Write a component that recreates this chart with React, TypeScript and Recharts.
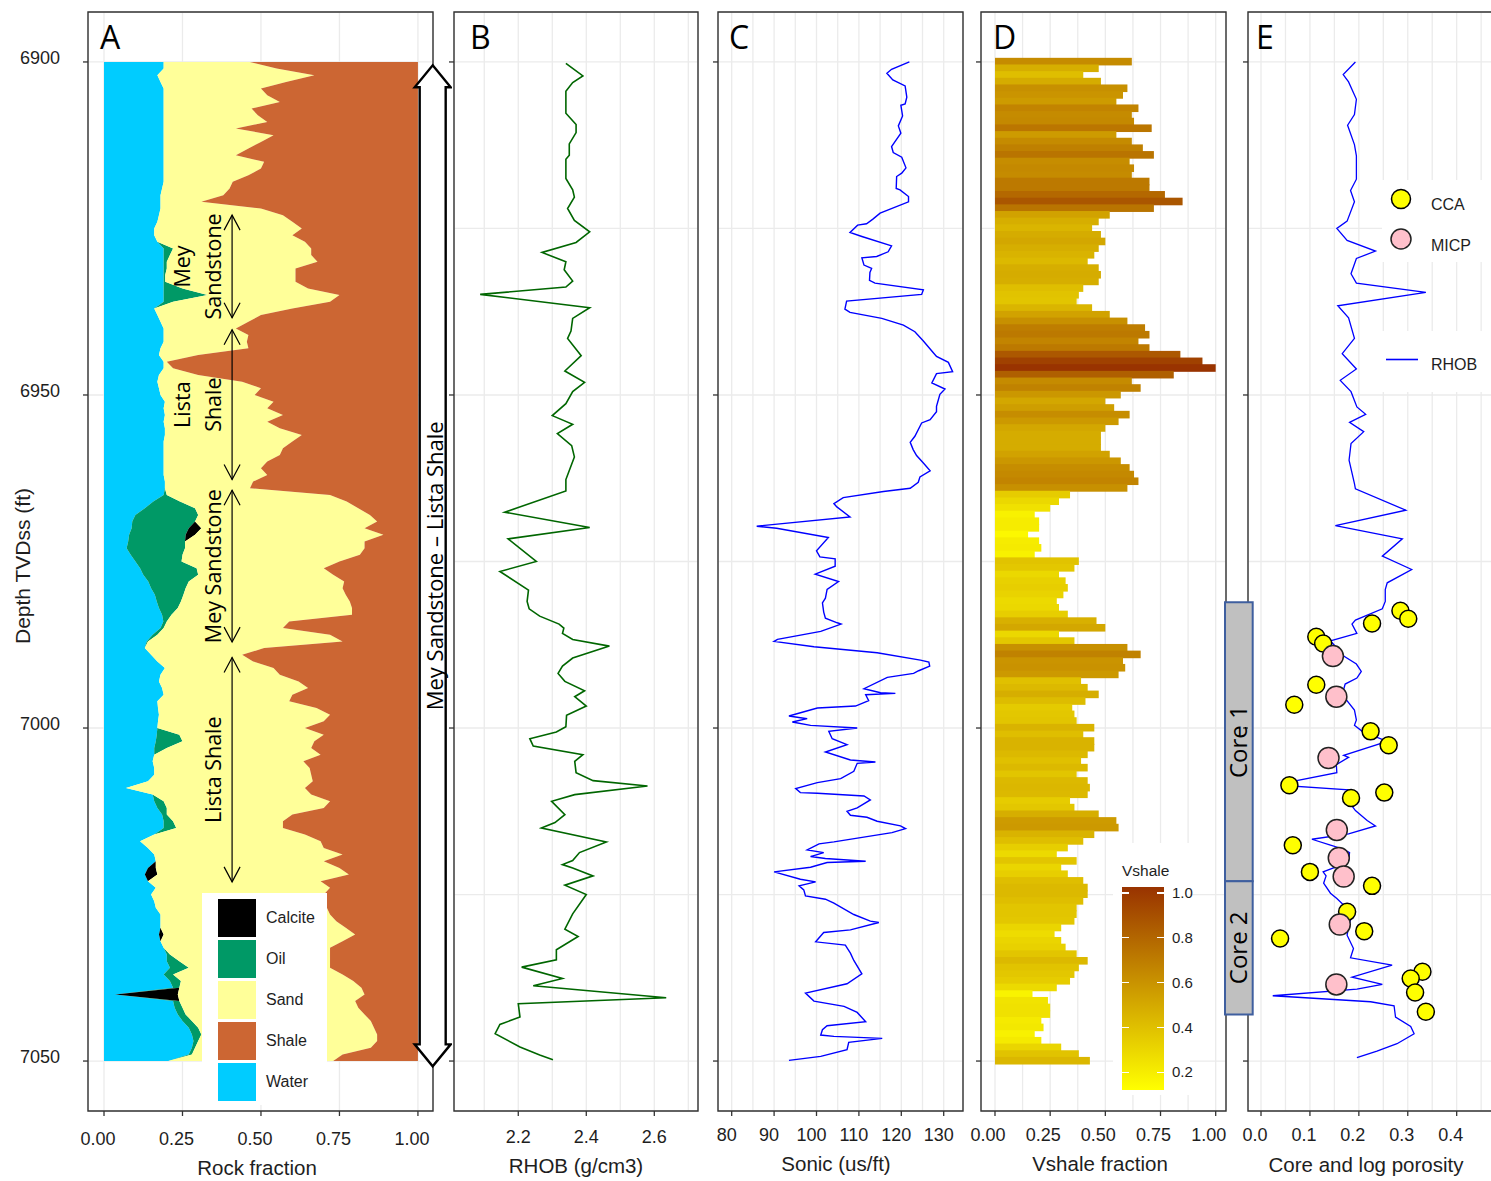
import React from "react";
import {
  AreaChart,
  Area,
  LineChart,
  Line,
  BarChart,
  Bar,
  Cell,
  ComposedChart,
  Scatter,
  XAxis,
  YAxis,
  CartesianGrid,
  ReferenceArea,
  ReferenceLine,
  Legend,
} from "recharts";

const SANS = '"Liberation Sans", Arial, sans-serif';
const NOTE_FONT = '"Open Sans", "Liberation Sans", sans-serif';
const INK = "#1e1e1e";
const GRID = "#EBEBEB";
const FRAME = "#333333";

// depth axis shared by all tracks (ft TVDss)
const DEPTH_DOMAIN: [number, number] = [6892.5, 7057.5];
const DEPTH_MAJOR = [6900, 6950, 7000, 7050];
const DEPTH_TICKS = [6900, 6925, 6950, 6975, 7000, 7025, 7050];
const DEPTH_TOP = 6900; // first sample of the 1 ft grid used by tracks A and D

// ---- track A: rock fractions, one sample per foot from 6900 to 7050 ----
const water = [
  0.19, 0.19, 0.17, 0.18, 0.19, 0.19, 0.19, 0.19, 0.19, 0.19,
  0.19, 0.19, 0.19, 0.19, 0.19, 0.19, 0.19, 0.19, 0.19, 0.185,
  0.18, 0.18, 0.18, 0.175, 0.17, 0.16, 0.16, 0.17, 0.19, 0.19,
  0.19, 0.19, 0.19, 0.19, 0.19, 0.19, 0.19, 0.16, 0.17, 0.18,
  0.19, 0.19, 0.19, 0.18, 0.175, 0.19, 0.19, 0.175, 0.17, 0.175,
  0.18, 0.194, 0.19, 0.194, 0.19, 0.194, 0.194, 0.19, 0.19, 0.19,
  0.19, 0.19, 0.19, 0.194, 0.194, 0.19, 0.157, 0.13, 0.1, 0.09,
  0.088, 0.08, 0.077, 0.072, 0.085, 0.1, 0.115, 0.125, 0.141, 0.15,
  0.162, 0.168, 0.175, 0.185, 0.189, 0.18, 0.155, 0.136, 0.13, 0.15,
  0.17, 0.194, 0.18, 0.175, 0.185, 0.19, 0.17, 0.172, 0.175, 0.172,
  0.17, 0.168, 0.165, 0.16, 0.16, 0.155, 0.16, 0.16, 0.14, 0.07,
  0.155, 0.16, 0.17, 0.185, 0.19, 0.19, 0.16, 0.115, 0.14, 0.16,
  0.165, 0.14, 0.13, 0.14, 0.165, 0.15, 0.16, 0.165, 0.18, 0.18,
  0.18, 0.175, 0.18, 0.19, 0.2, 0.2, 0.21, 0.19, 0.21, 0.22,
  0.035, 0.22, 0.225, 0.235, 0.25, 0.27, 0.28, 0.285, 0.28, 0.27,
  0.205,
];
const oil = [
  0, 0, 0, 0, 0, 0, 0, 0, 0, 0,
  0, 0, 0, 0, 0, 0, 0, 0, 0, 0,
  0, 0, 0, 0, 0, 0, 0, 0, 0.03, 0.02,
  0.01, 0.01, 0.005, 0.005, 0.06, 0.14, 0.03, 0, 0, 0,
  0, 0, 0, 0, 0, 0, 0, 0, 0, 0,
  0, 0, 0, 0, 0, 0, 0, 0, 0, 0,
  0, 0, 0, 0, 0, 0.01, 0.085, 0.16, 0.2, 0.2,
  0.182, 0.18, 0.181, 0.186, 0.165, 0.147, 0.18, 0.175, 0.129, 0.11,
  0.091, 0.077, 0.06, 0.03, 0.011, 0.01, 0.015, 0.004, 0, 0,
  0, 0, 0, 0, 0, 0, 0, 0, 0, 0,
  0, 0.072, 0.085, 0.04, 0, 0, 0, 0, 0, 0,
  0, 0.03, 0.03, 0.015, 0.03, 0.04, 0, 0, 0, 0,
  0, 0, 0, 0, 0, 0, 0, 0, 0, 0,
  0, 0, 0, 0, 0.01, 0.04, 0.06, 0.03, 0.035, 0.02,
  0, 0.02, 0.025, 0.025, 0.03, 0.03, 0.03, 0.015, 0.01, 0.01,
  0,
];
const calcite = [
  0, 0, 0, 0, 0, 0, 0, 0, 0, 0,
  0, 0, 0, 0, 0, 0, 0, 0, 0, 0,
  0, 0, 0, 0, 0, 0, 0, 0, 0, 0,
  0, 0, 0, 0, 0, 0, 0, 0, 0, 0,
  0, 0, 0, 0, 0, 0, 0, 0, 0, 0,
  0, 0, 0, 0, 0, 0, 0, 0, 0, 0,
  0, 0, 0, 0, 0, 0, 0, 0, 0, 0,
  0.04, 0.03, 0, 0, 0, 0, 0, 0, 0, 0,
  0, 0, 0, 0, 0, 0, 0, 0, 0, 0,
  0, 0, 0, 0, 0, 0, 0, 0, 0, 0,
  0, 0, 0, 0, 0, 0, 0, 0, 0, 0,
  0, 0, 0, 0, 0, 0, 0, 0, 0, 0,
  0, 0.025, 0.04, 0, 0, 0, 0, 0, 0, 0,
  0, 0.015, 0, 0, 0, 0, 0, 0, 0, 0,
  0.2, 0, 0, 0, 0, 0, 0, 0, 0, 0,
  0,
];
const sand = [
  0.275, 0.36, 0.5, 0.4, 0.31, 0.33, 0.37, 0.28, 0.3, 0.33,
  0.23, 0.35, 0.31, 0.27, 0.23, 0.32, 0.31, 0.27, 0.22, 0.215,
  0.2, 0.13, 0.32, 0.395, 0.43, 0.47, 0.44, 0.47, 0.44, 0.45,
  0.48, 0.41, 0.415, 0.415, 0.4, 0.42, 0.5, 0.44, 0.33, 0.28,
  0.23, 0.27, 0.265, 0.28, 0.125, 0.01, 0.03, 0.125, 0.27, 0.325,
  0.3, 0.346, 0.33, 0.376, 0.33, 0.366, 0.436, 0.41, 0.38, 0.37,
  0.33, 0.31, 0.33, 0.281, 0.271, 0.52, 0.531, 0.52, 0.547, 0.58,
  0.52, 0.6, 0.572, 0.572, 0.565, 0.503, 0.405, 0.43, 0.495, 0.5,
  0.517, 0.538, 0.555, 0.575, 0.39, 0.38, 0.55, 0.62, 0.38, 0.29,
  0.305, 0.346, 0.38, 0.445, 0.465, 0.41, 0.42, 0.505, 0.545, 0.528,
  0.47, 0.46, 0.42, 0.46, 0.53, 0.48, 0.495, 0.5, 0.525, 0.57,
  0.505, 0.53, 0.5, 0.4, 0.35, 0.34, 0.48, 0.575, 0.56, 0.6,
  0.535, 0.585, 0.61, 0.55, 0.555, 0.55, 0.54, 0.545, 0.54, 0.56,
  0.59, 0.61, 0.58, 0.53, 0.51, 0.48, 0.45, 0.54, 0.549, 0.58,
  0.595, 0.56, 0.56, 0.57, 0.57, 0.56, 0.56, 0.57, 0.56, 0.48,
  0.525,
];
const shale = [
  0.535, 0.45, 0.33, 0.42, 0.5, 0.48, 0.44, 0.53, 0.51, 0.48,
  0.58, 0.46, 0.5, 0.54, 0.58, 0.49, 0.5, 0.54, 0.59, 0.6,
  0.62, 0.69, 0.5, 0.43, 0.4, 0.37, 0.4, 0.36, 0.34, 0.34,
  0.32, 0.39, 0.39, 0.39, 0.35, 0.25, 0.28, 0.4, 0.5, 0.54,
  0.58, 0.54, 0.545, 0.54, 0.7, 0.8, 0.78, 0.7, 0.56, 0.5,
  0.52, 0.46, 0.48, 0.43, 0.48, 0.44, 0.37, 0.4, 0.43, 0.44,
  0.48, 0.5, 0.48, 0.525, 0.535, 0.28, 0.227, 0.19, 0.153, 0.13,
  0.17, 0.11, 0.17, 0.17, 0.185, 0.25, 0.3, 0.27, 0.235, 0.24,
  0.23, 0.217, 0.21, 0.21, 0.41, 0.43, 0.28, 0.24, 0.49, 0.56,
  0.525, 0.46, 0.44, 0.38, 0.35, 0.4, 0.41, 0.323, 0.28, 0.3,
  0.36, 0.3, 0.33, 0.34, 0.31, 0.365, 0.345, 0.34, 0.335, 0.36,
  0.34, 0.28, 0.3, 0.4, 0.43, 0.43, 0.36, 0.31, 0.3, 0.24,
  0.3, 0.25, 0.22, 0.31, 0.28, 0.3, 0.3, 0.29, 0.28, 0.26,
  0.23, 0.2, 0.24, 0.28, 0.28, 0.28, 0.28, 0.24, 0.206, 0.18,
  0.17, 0.2, 0.19, 0.17, 0.15, 0.14, 0.13, 0.13, 0.15, 0.24,
  0.27,
];

// ---- track B: bulk density log ----
const rhobDepth = [
  6900.2, 6902.1, 6903.1, 6904.4, 6906.0, 6907.7, 6909.4, 6910.6, 6912.3, 6914.0,
  6914.6, 6917.5, 6919.2, 6920.3, 6922.0, 6923.8, 6925.5, 6927.1, 6928.6, 6930.0,
  6931.2, 6932.9, 6933.8, 6934.9, 6936.9, 6938.5, 6940.4, 6941.5, 6944.1, 6946.4,
  6948.1, 6949.5, 6951.3, 6953.1, 6954.4, 6955.8, 6957.6, 6959.3, 6962.7, 6964.4,
  6967.6, 6969.9, 6971.6, 6975.0, 6976.5, 6979.3, 6981.0, 6982.1, 6983.2, 6984.4,
  6985.0, 6985.8, 6986.7, 6987.7, 6989.5, 6990.7, 6991.8, 6993.0, 6994.4, 6995.3,
  6996.7, 6998.1, 6999.8, 7000.6, 7001.6, 7002.7, 7004.0, 7005.0, 7006.7, 7007.9,
  7008.7, 7010.0, 7011.0, 7013.0, 7014.2, 7015.0, 7017.1, 7018.7, 7019.9, 7020.5,
  7021.0, 7022.2, 7023.6, 7025.0, 7027.9, 7030.2, 7031.3, 7033.3, 7034.8, 7035.9,
  7037.6, 7038.7, 7040.5, 7041.4, 7043.4, 7044.5, 7045.9, 7047.9, 7049.1, 7049.8,
];
const rhob = [
  2.34, 2.39, 2.36, 2.34, 2.34, 2.34, 2.37, 2.37, 2.35, 2.35,
  2.34, 2.34, 2.36, 2.365, 2.345, 2.365, 2.41, 2.37, 2.27, 2.34,
  2.335, 2.36, 2.34, 2.088, 2.41, 2.36, 2.355, 2.345, 2.385, 2.337,
  2.395, 2.36, 2.34, 2.3, 2.36, 2.315, 2.357, 2.365, 2.34, 2.34,
  2.16, 2.41, 2.17, 2.253, 2.146, 2.23, 2.226, 2.232, 2.263, 2.32,
  2.334, 2.33, 2.36, 2.468, 2.36, 2.33, 2.317, 2.337, 2.395, 2.366,
  2.4, 2.342, 2.34, 2.312, 2.234, 2.244, 2.39, 2.366, 2.37, 2.42,
  2.58, 2.366, 2.298, 2.337, 2.308, 2.268, 2.459, 2.38, 2.36, 2.33,
  2.36, 2.42, 2.337, 2.4, 2.36, 2.337, 2.376, 2.312, 2.312, 2.21,
  2.33, 2.244, 2.635, 2.2, 2.205, 2.146, 2.132, 2.205, 2.263, 2.302,
];

// ---- track C: sonic log ----
const sonicDepth = [
  6900.0, 6901.1, 6901.7, 6902.7, 6903.6, 6905.3, 6906.3, 6906.5, 6908.1, 6909.6,
  6910.7, 6912.7, 6913.6, 6914.3, 6915.9, 6916.7, 6917.2, 6919.0, 6919.2, 6920.2,
  6921.0, 6922.7, 6923.6, 6924.3, 6924.5, 6925.6, 6926.2, 6927.6, 6928.5, 6929.2,
  6929.4, 6930.5, 6931.0, 6931.6, 6932.8, 6933.2, 6934.2, 6934.9, 6935.9, 6937.1,
  6937.6, 6938.5, 6939.5, 6940.5, 6941.9, 6943.4, 6944.2, 6945.1, 6946.5, 6946.8,
  6948.2, 6949.1, 6949.9, 6951.7, 6952.5, 6953.7, 6954.2, 6956.2, 6957.1, 6958.2,
  6959.1, 6960.2, 6961.4, 6962.3, 6963.1, 6964.0, 6964.5, 6965.4, 6966.3, 6966.8,
  6968.3, 6969.7, 6970.0, 6971.4, 6973.4, 6974.3, 6974.6, 6975.7, 6976.9, 6978.0,
  6979.2, 6980.5, 6981.2, 6982.6, 6983.5, 6984.2, 6984.4, 6985.5, 6986.7, 6987.0,
  6987.8, 6988.7, 6989.8, 6990.1, 6990.7, 6991.4, 6991.8, 6992.4, 6994.1, 6994.7,
  6994.8, 6995.0, 6995.9, 6996.7, 6997.0, 6998.2, 6998.6, 6999.1, 6999.6, 7000.0,
  7000.5, 7001.6, 7002.5, 7003.6, 7004.8, 7005.1, 7005.3, 7006.5, 7007.6, 7008.2,
  7009.1, 7009.7, 7009.8, 7010.2, 7010.8, 7012.0, 7012.5, 7013.1, 7013.4, 7014.0,
  7014.7, 7015.1, 7015.7, 7017.1, 7017.4, 7018.3, 7018.7, 7019.3, 7019.6, 7020.0,
  7020.2, 7020.9, 7021.6, 7022.7, 7023.1, 7023.7, 7024.3, 7025.2, 7025.7, 7026.3,
  7028.0, 7029.0, 7029.2, 7030.3, 7030.7, 7032.1, 7032.6, 7033.8, 7034.9, 7036.9,
  7038.4, 7039.8, 7041.0, 7041.8, 7042.7, 7044.1, 7044.7, 7045.3, 7046.1, 7046.3,
  7046.6, 7047.2, 7048.3, 7049.3, 7049.9,
];
const sonic = [
  121.9, 117.7, 116.6, 118.0, 120.9, 121.3, 120.9, 119.9, 120.3, 119.3,
  119.9, 117.7, 118.1, 120.1, 121.1, 120.1, 118.9, 118.8, 119.7, 121.7,
  121.7, 115.0, 113.3, 111.8, 109.7, 107.9, 110.7, 117.7, 116.9, 114.2,
  110.7, 111.2, 113.0, 112.6, 112.5, 113.8, 125.2, 124.8, 107.1, 106.7,
  107.9, 115.4, 120.5, 123.2, 125.2, 127.2, 128.3, 131.1, 132.1, 128.3,
  127.2, 130.3, 129.1, 128.3, 128.3, 126.8, 124.8, 123.2, 122.1, 122.8,
  123.6, 125.2, 126.8, 124.4, 124.0, 122.1, 115.8, 106.3, 104.1, 104.8,
  107.9, 85.9, 90.6, 102.8, 100.0, 100.8, 104.4, 104.4, 99.7, 105.2,
  102.5, 102.1, 101.4, 101.7, 102.1, 104.9, 105.8, 101.0, 90.8, 90.0,
  99.4, 114.3, 124.5, 126.5, 126.7, 124.1, 122.9, 116.7, 111.2, 115.1,
  118.6, 111.6, 112.3, 109.2, 100.2, 93.5, 97.8, 94.3, 98.6, 109.6,
  102.9, 103.7, 107.2, 102.1, 108.0, 113.9, 109.6, 108.8, 105.7, 100.2,
  95.1, 96.2, 100.2, 111.2, 112.7, 109.6, 107.2, 108.0, 111.9, 114.3,
  119.8, 121.0, 117.8, 104.1, 100.6, 97.8, 101.7, 98.6, 102.1, 111.6,
  102.5, 98.6, 90.0, 96.2, 99.8, 95.9, 97.0, 97.4, 102.1, 104.1,
  108.8, 112.7, 114.7, 108.0, 101.7, 99.8, 106.8, 108.0, 108.8, 110.7,
  107.2, 97.4, 99.4, 106.5, 109.6, 111.6, 102.5, 101.4, 101.0, 104.1,
  115.5, 107.6, 107.2, 101.0, 93.5,
];

// ---- track D: shale volume, one bar per foot from 6900 to 7050 ----
const vshale = [
  0.62, 0.47, 0.4, 0.48, 0.6, 0.58, 0.55, 0.65, 0.62, 0.63,
  0.71, 0.55, 0.62, 0.67, 0.72, 0.61, 0.63, 0.62, 0.7, 0.7,
  0.77, 0.85, 0.72, 0.52, 0.47, 0.44, 0.48, 0.5, 0.47, 0.45,
  0.42, 0.47, 0.48, 0.47, 0.4, 0.38, 0.37, 0.44, 0.52, 0.6,
  0.68, 0.7, 0.65, 0.7, 0.84, 0.94, 1.0, 0.81, 0.62, 0.66,
  0.57, 0.5, 0.54, 0.61, 0.56, 0.5, 0.48, 0.48, 0.48, 0.52,
  0.57, 0.61, 0.63, 0.65, 0.6, 0.34, 0.29, 0.25, 0.18, 0.2,
  0.2, 0.15, 0.2, 0.21, 0.18, 0.38, 0.36, 0.29, 0.32, 0.33,
  0.31, 0.28, 0.29, 0.33, 0.46, 0.5, 0.29, 0.36, 0.6, 0.66,
  0.58, 0.59, 0.56, 0.39, 0.42, 0.47, 0.41, 0.35, 0.36, 0.37,
  0.45, 0.4, 0.45, 0.45, 0.42, 0.39, 0.42, 0.37, 0.42, 0.43,
  0.42, 0.34, 0.36, 0.47, 0.55, 0.56, 0.45, 0.4, 0.33, 0.28,
  0.37, 0.3, 0.33, 0.4, 0.42, 0.42, 0.4, 0.37, 0.37, 0.36,
  0.3, 0.27, 0.3, 0.32, 0.37, 0.42, 0.38, 0.36, 0.34, 0.28,
  0.17, 0.24, 0.25, 0.25, 0.21, 0.22, 0.18, 0.21, 0.3, 0.38,
  0.43,
];
const vshaleLegendTicks = [1.0, 0.8, 0.6, 0.4, 0.2];

// ---- track E: log porosity line and core measurements ----
const phiDepth = [
  6900.0, 6901.9, 6903.0, 6905.6, 6907.9, 6909.5, 6912.4, 6914.1, 6917.6, 6919.3,
  6921.0, 6923.9, 6925.0, 6926.8, 6928.4, 6929.5, 6931.8, 6933.2, 6934.6, 6936.6,
  6938.4, 6941.5, 6943.8, 6946.1, 6947.8, 6949.5, 6951.8, 6952.9, 6954.1, 6955.5,
  6957.3, 6959.8, 6963.3, 6964.1, 6967.3, 6969.6, 6971.6, 6974.2, 6976.2, 6978.2,
  6979.2, 6981.0, 6982.1, 6983.8, 6984.4, 6985.8, 6986.9, 6989.2, 6990.4, 6991.5,
  6992.5, 6993.4, 6995.0, 6997.3, 6998.8, 6999.6, 7000.5, 7002.0, 7004.1, 7004.4,
  7005.5, 7006.7, 7007.9, 7008.7, 7009.3, 7010.7, 7012.4, 7013.9, 7014.7, 7015.9,
  7016.7, 7017.6, 7018.2, 7018.7, 7019.9, 7020.7, 7021.6, 7022.2, 7023.3, 7024.8,
  7025.6, 7027.3, 7028.8, 7029.9, 7031.1, 7033.1, 7034.5, 7035.6, 7037.4, 7038.5,
  7039.2, 7040.2, 7041.1, 7041.7, 7043.4, 7044.8, 7045.9, 7047.4, 7048.5, 7049.5,
];
const phiLog = [
  0.193, 0.168, 0.179, 0.195, 0.191, 0.177, 0.191, 0.195, 0.195, 0.183,
  0.191, 0.176, 0.155, 0.176, 0.234, 0.195, 0.184, 0.195, 0.337, 0.157,
  0.179, 0.191, 0.166, 0.195, 0.162, 0.184, 0.196, 0.214, 0.181, 0.21,
  0.184, 0.18, 0.191, 0.193, 0.296, 0.152, 0.289, 0.248, 0.308, 0.258,
  0.254, 0.254, 0.248, 0.193, 0.186, 0.196, 0.142, 0.169, 0.195, 0.205,
  0.196, 0.172, 0.166, 0.191, 0.195, 0.191, 0.207, 0.258, 0.169, 0.179,
  0.154, 0.155, 0.073, 0.06, 0.179, 0.176, 0.193, 0.217, 0.234, 0.179,
  0.104, 0.142, 0.169, 0.181, 0.179, 0.159, 0.127, 0.133, 0.128, 0.142,
  0.155, 0.179, 0.183, 0.179, 0.176, 0.189, 0.183, 0.268, 0.186, 0.248,
  0.196, 0.024, 0.224, 0.272, 0.275, 0.306, 0.313, 0.278, 0.237, 0.196,
];
const ccaDepth = [
  6982.4, 6983.6, 6984.3, 6986.3, 6987.3, 6993.5, 6996.5, 7000.5, 7002.6, 7008.6, 7010.5,
  7009.7, 7017.6, 7021.6, 7023.7, 7027.6, 7030.5, 7031.6, 7036.6, 7037.6, 7039.7, 7042.6,
];
const ccaPhi = [
  0.285, 0.301, 0.227, 0.113, 0.127, 0.113, 0.068, 0.224, 0.261, 0.058, 0.184,
  0.252, 0.065, 0.1, 0.227, 0.176, 0.211, 0.039, 0.33, 0.306, 0.315, 0.337,
];
const micpDepth = [6989.2, 6995.3, 7004.5, 7015.3, 7019.5, 7022.3, 7029.5, 7038.5];
const micpPhi = [0.147, 0.154, 0.138, 0.155, 0.159, 0.169, 0.161, 0.154];

// cored intervals and formation zones (depth, ft)
const cores = [
  { name: "Core 1", top: 6981.1, base: 7023.0 },
  { name: "Core 2", top: 7023.0, base: 7043.0 },
];
const zones = [
  { top: 6923.0, base: 6938.4, lines: ["Mey", "Sandstone"] },
  { top: 6940.2, base: 6962.7, lines: ["Lista", "Shale"] },
  { top: 6964.3, base: 6987.1, lines: ["Mey Sandstone"] },
  { top: 6989.4, base: 7023.1, lines: ["Lista Shale"] },
];
const interval = { top: 6900.5, base: 7050.8, text: "Mey Sandstone \u2013 Lista Shale" };

const rockKeys = [
  { key: "calcite", name: "Calcite", color: "#000000" },
  { key: "oil", name: "Oil", color: "#009966" },
  { key: "sand", name: "Sand", color: "#FFFF99" },
  { key: "shale", name: "Shale", color: "#CC6633" },
  { key: "water", name: "Water", color: "#00CCFF" },
];
const stackOrder = ["water", "oil", "calcite", "sand", "shale"];

const rockRows = water.map((w, i) => ({
  depth: DEPTH_TOP + i,
  water: w,
  oil: oil[i],
  calcite: calcite[i],
  sand: sand[i],
  shale: shale[i],
}));
const vshaleRows = vshale.map((v, i) => ({ depth: DEPTH_TOP + i, vshale: v }));
const rhobRows = rhobDepth.map((d, i) => ({ depth: d, rhob: rhob[i] }));
const sonicRows = sonicDepth.map((d, i) => ({ depth: d, sonic: sonic[i] }));
const phiRows = phiDepth.map((d, i) => ({ depth: d, phi: phiLog[i] }));
const ccaRows = ccaDepth.map((d, i) => ({ depth: d, phi: ccaPhi[i] }));
const micpRows = micpDepth.map((d, i) => ({ depth: d, phi: micpPhi[i] }));

const VSHALE_LOW = 0.12;
const VSHALE_HIGH = 1.0;
function vshaleColor(v: number) {
  const t = Math.max(0, Math.min(1, (v - VSHALE_LOW) / (VSHALE_HIGH - VSHALE_LOW)));
  const r = Math.round(255 + (153 - 255) * t);
  const g = Math.round(255 + (51 - 255) * t);
  return `rgb(${r},${g},0)`;
}

// bars touch each other like a log fill: pad each rect by a pixel
function VshaleBar(p: any) {
  if (!p || p.width == null) return <g />;
  const cy = p.y + p.height / 2;
  return <rect x={p.x} y={cy - 3.8} width={Math.max(0, p.width)} height={7.6} fill={p.fill} />;
}

// ---- axis ticks ----
function bottomTick(majors: number[], fmt: (v: number) => string, drop: number, dx: number) {
  return (p: any) => {
    const v = p.payload?.value;
    if (!majors.includes(v)) return <g />;
    return (
      <g>
        <line x1={p.x} x2={p.x} y1={p.y} y2={p.y + 5} stroke={FRAME} strokeWidth={1.3} />
        <text x={p.x + dx} y={p.y + drop} textAnchor="middle" dominantBaseline="central"
          fontSize={18} fontFamily={SANS} fill={INK}>
          {fmt(v)}
        </text>
      </g>
    );
  };
}
function leftTick(withLabel: boolean) {
  return (p: any) => {
    const v = p.payload?.value;
    if (!DEPTH_MAJOR.includes(v)) return <g />;
    return (
      <g>
        <line x1={p.x - 5} x2={p.x} y1={p.y} y2={p.y} stroke={FRAME} strokeWidth={1.3} />
        {withLabel && (
          <text x={p.x - 28} y={p.y - 4} textAnchor="end" dominantBaseline="central"
            fontSize={18} fontFamily={SANS} fill={INK}>
            {v}
          </text>
        )}
      </g>
    );
  };
}

function zoneArrow(lines: string[]) {
  return (p: any) => {
    const x = p.x1;
    const ya = Math.min(p.y1, p.y2);
    const yb = Math.max(p.y1, p.y2);
    const mid = (ya + yb) / 2;
    return (
      <g>
        <line x1={x} x2={x} y1={ya} y2={yb} stroke="#000" strokeWidth={1.2} />
        <polyline points={`${x - 8},${ya + 15} ${x},${ya} ${x + 8},${ya + 15}`} fill="none" stroke="#000" strokeWidth={1.2} />
        <polyline points={`${x - 8},${yb - 15} ${x},${yb} ${x + 8},${yb - 15}`} fill="none" stroke="#000" strokeWidth={1.2} />
        {lines.map((t, i) => {
          const cx = x - 20 - (lines.length - 1 - i) * 31;
          return (
            <text key={t} x={cx} y={mid} transform={`rotate(-90 ${cx} ${mid})`} textAnchor="middle"
              dominantBaseline="central" fontSize={21.5} fontFamily={NOTE_FONT} fill="#000">
              {t}
            </text>
          );
        })}
      </g>
    );
  };
}

function hollowArrow(text: string) {
  return (p: any) => {
    const x = p.x1;
    const ya = Math.min(p.y1, p.y2);
    const yb = Math.max(p.y1, p.y2);
    const mid = (ya + yb) / 2;
    const hw = 18;
    const sw = 13;
    const hl = 22;
    const pts = [
      [x, ya], [x + hw, ya + hl], [x + sw, ya + hl], [x + sw, yb - hl], [x + hw, yb - hl],
      [x, yb], [x - hw, yb - hl], [x - sw, yb - hl], [x - sw, ya + hl], [x - hw, ya + hl],
    ].map((q) => q.join(",")).join(" ");
    return (
      <g>
        <polygon points={pts} fill="#fff" stroke="#000" strokeWidth={2.4} strokeLinejoin="miter" />
        <text x={x + 1} y={mid} transform={`rotate(-90 ${x + 1} ${mid})`} textAnchor="middle"
          dominantBaseline="central" fontSize={22} fontFamily={NOTE_FONT} fill="#000">
          {text}
        </text>
      </g>
    );
  };
}

function RockLegend() {
  return (
    <div style={{ width: 125, height: 212, background: "#fff", position: "relative" }}>
      {rockKeys.map((k, i) => (
        <div key={k.key} style={{ position: "absolute", left: 16, top: 6 + i * 41, height: 38, display: "flex", alignItems: "center" }}>
          <div style={{ width: 38, height: 38, background: k.color }} />
          <span style={{ marginLeft: 10, fontSize: 16, fontFamily: SANS, color: INK }}>{k.name}</span>
        </div>
      ))}
    </div>
  );
}

function VshaleLegend() {
  const barTop = 44;
  const barH = 203;
  return (
    <div style={{ width: 77, height: 252, background: "#fff", position: "relative", fontFamily: SANS, color: INK }}>
      <div style={{ position: "absolute", left: 9, top: 19, fontSize: 15.5, lineHeight: "18px" }}>Vshale</div>
      <div style={{ position: "absolute", left: 9, top: barTop, width: 42, height: barH,
        background: "linear-gradient(to bottom, #993300, #FFFF00)" }} />
      {vshaleLegendTicks.map((v) => {
        const ty = barTop + 5.8 + ((1 - v) / 0.2) * 44.9;
        return (
          <React.Fragment key={v}>
            <div style={{ position: "absolute", left: 9, top: ty - 0.75, width: 7, height: 1.5, background: "#fff" }} />
            <div style={{ position: "absolute", left: 44, top: ty - 0.75, width: 7, height: 1.5, background: "#fff" }} />
            <div style={{ position: "absolute", left: 59, top: ty - 9, fontSize: 15, lineHeight: "18px" }}>{v.toFixed(1)}</div>
          </React.Fragment>
        );
      })}
    </div>
  );
}

function PorosityLegend() {
  return (
    <svg width={125} height={215} style={{ display: "block" }}>
      <rect x={14} y={0} width={111} height={82} fill="#fff" />
      <circle cx={33} cy={19} r={9.5} fill="#FFFF00" stroke="#000" strokeWidth={1.5} />
      <circle cx={33} cy={59} r={10} fill="#FFC0CB" stroke="#222" strokeWidth={1.5} />
      <text x={63} y={24} dominantBaseline="central" fontSize={16} fontFamily={SANS} fill={INK}>CCA</text>
      <text x={63} y={65} dominantBaseline="central" fontSize={16} fontFamily={SANS} fill={INK}>MICP</text>
      <rect x={0} y={151} width={125} height={61} fill="#fff" />
      <line x1={18} x2={50} y1={179.5} y2={179.5} stroke="#0000FF" strokeWidth={1.6} />
      <text x={63} y={184} dominantBaseline="central" fontSize={16} fontFamily={SANS} fill={INK}>RHOB</text>
    </svg>
  );
}

const noLegendShift = { layout: "vertical" as const, align: "center" as const, verticalAlign: "middle" as const };

export default function App() {
  const A_X: [number, number] = [-0.051, 1.048];
  const B_X: [number, number] = [2.011, 2.7285];
  const C_X: [number, number] = [76.77, 134.55];
  const D_X: [number, number] = [-0.0634, 1.0467];
  const E_X: [number, number] = [-0.0266, 0.4722];

  const border = (xd: [number, number]) => (
    <ReferenceArea x1={xd[0]} x2={xd[1]} y1={DEPTH_DOMAIN[0]} y2={DEPTH_DOMAIN[1]}
      fill="none" stroke={FRAME} strokeWidth={1.4} ifOverflow="visible" />
  );
  const depthAxis = (width: number, ticks: number[], withLabel: boolean) => (
    <YAxis type="number" dataKey="depth" domain={DEPTH_DOMAIN} allowDataOverflow ticks={ticks}
      interval={0} width={width} tickSize={0} tickMargin={0} tickLine={false} axisLine={false}
      tick={leftTick(withLabel)} />
  );

  const titles = [
    { text: "Rock fraction", x: 257, y: 1167 },
    { text: "RHOB (g/cm3)", x: 576, y: 1165 },
    { text: "Sonic (us/ft)", x: 836, y: 1163 },
    { text: "Vshale fraction", x: 1100, y: 1163 },
    { text: "Core and log porosity", x: 1366, y: 1164 },
  ];
  const letters = [
    { text: "A", x: 100 },
    { text: "B", x: 470 },
    { text: "C", x: 729 },
    { text: "D", x: 993 },
    { text: "E", x: 1256 },
  ];

  return (
    <div style={{ position: "absolute", left: 0, top: 0, width: 1491, height: 1181, background: "#fff", overflow: "hidden" }}>
      {/* A: rock fractions */}
      <div style={{ position: "absolute", left: 0, top: 0 }}>
        <AreaChart width={452} height={1181} layout="vertical" data={rockRows}
          margin={{ top: 12, right: 19, bottom: 0, left: 0 }}>
          <CartesianGrid stroke={GRID} strokeWidth={1.3} />
          <XAxis type="number" domain={A_X} allowDataOverflow ticks={[0, 0.25, 0.5, 0.75, 1]} interval={0}
            height={70} tickSize={0} tickMargin={0} tickLine={false} axisLine={false}
            tick={bottomTick([0, 0.25, 0.5, 0.75, 1], (v) => v.toFixed(2), 28, -6)} />
          {depthAxis(88, DEPTH_MAJOR, true)}
          {stackOrder.map((k) => (
            <Area key={k} dataKey={k} stackId="rock" type="linear" stroke="none" strokeWidth={0}
              fill={rockKeys.find((r) => r.key === k)!.color} fillOpacity={1}
              dot={false} activeDot={false} isAnimationActive={false} />
          ))}
          {border(A_X)}
          {zones.map((z) => (
            <ReferenceLine key={z.top} segment={[{ x: 0.408, y: z.top }, { x: 0.408, y: z.base }]}
              ifOverflow="visible" shape={zoneArrow(z.lines)} />
          ))}
          <ReferenceLine segment={[{ x: 1.047, y: interval.top }, { x: 1.047, y: interval.base }]}
            ifOverflow="visible" shape={hollowArrow(interval.text)} />
          <Legend {...noLegendShift} wrapperStyle={{ left: 202, top: 893, width: 125, height: 212 }}
            content={() => <RockLegend />} />
        </AreaChart>
      </div>

      {/* B: RHOB */}
      <div style={{ position: "absolute", left: 440, top: 0 }}>
        <LineChart width={262} height={1181} layout="vertical" data={rhobRows}
          margin={{ top: 12, right: 4, bottom: 0, left: 0 }}>
          <CartesianGrid stroke={GRID} strokeWidth={1.3} />
          <XAxis type="number" dataKey="rhob" domain={B_X} allowDataOverflow
            ticks={[2.1, 2.2, 2.3, 2.4, 2.5, 2.6, 2.7]} interval={0} height={70}
            tickSize={0} tickMargin={0} tickLine={false} axisLine={false}
            tick={bottomTick([2.2, 2.4, 2.6], (v) => v.toFixed(1), 26, 0)} />
          {depthAxis(14, DEPTH_TICKS, false)}
          <Line dataKey="rhob" type="linear" stroke="#006600" strokeWidth={1.6} dot={false}
            activeDot={false} isAnimationActive={false} />
          {border(B_X)}
        </LineChart>
      </div>

      {/* C: Sonic */}
      <div style={{ position: "absolute", left: 704, top: 0 }}>
        <LineChart width={263} height={1181} layout="vertical" data={sonicRows}
          margin={{ top: 12, right: 4, bottom: 0, left: 0 }}>
          <CartesianGrid stroke={GRID} strokeWidth={1.3} />
          <XAxis type="number" dataKey="sonic" domain={C_X} allowDataOverflow
            ticks={[80, 85, 90, 95, 100, 105, 110, 115, 120, 125, 130]} interval={0} height={70}
            tickSize={0} tickMargin={0} tickLine={false} axisLine={false}
            tick={bottomTick([80, 90, 100, 110, 120, 130], (v) => String(v), 24, -5)} />
          {depthAxis(14, DEPTH_TICKS, false)}
          <Line dataKey="sonic" type="linear" stroke="#0000FF" strokeWidth={1.4} dot={false}
            activeDot={false} isAnimationActive={false} />
          {border(C_X)}
        </LineChart>
      </div>

      {/* D: Vshale */}
      <div style={{ position: "absolute", left: 967, top: 0 }}>
        <BarChart width={263} height={1181} layout="vertical" data={vshaleRows} barCategoryGap={0} barGap={0}
          margin={{ top: 12, right: 4, bottom: 0, left: 0 }}>
          <CartesianGrid stroke={GRID} strokeWidth={1.3} />
          <XAxis type="number" domain={D_X} allowDataOverflow
            ticks={[0, 0.125, 0.25, 0.375, 0.5, 0.625, 0.75, 0.875, 1]} interval={0} height={70}
            tickSize={0} tickMargin={0} tickLine={false} axisLine={false}
            tick={bottomTick([0, 0.25, 0.5, 0.75, 1], (v) => v.toFixed(2), 24, -7)} />
          {depthAxis(14, DEPTH_TICKS, false)}
          <Bar dataKey="vshale" barSize={6} shape={VshaleBar} isAnimationActive={false}>
            {vshaleRows.map((r) => (
              <Cell key={r.depth} fill={vshaleColor(r.vshale)} />
            ))}
          </Bar>
          {border(D_X)}
          <Legend {...noLegendShift} wrapperStyle={{ left: 146, top: 843, width: 77, height: 252 }}
            content={() => <VshaleLegend />} />
        </BarChart>
      </div>

      {/* E: porosity */}
      <div style={{ position: "absolute", left: 1180, top: 0 }}>
        <ComposedChart width={313} height={1181} layout="vertical" data={phiRows}
          margin={{ top: 12, right: 1, bottom: 0, left: 0 }}>
          <CartesianGrid stroke={GRID} strokeWidth={1.3} />
          <XAxis type="number" dataKey="phi" domain={E_X} allowDataOverflow
            ticks={[0, 0.05, 0.1, 0.15, 0.2, 0.25, 0.3, 0.35, 0.4, 0.45]} interval={0} height={70}
            tickSize={0} tickMargin={0} tickLine={false} axisLine={false}
            tick={bottomTick([0, 0.1, 0.2, 0.3, 0.4], (v) => v.toFixed(1), 24, -6)} />
          {depthAxis(68, DEPTH_TICKS, false)}
          <Line dataKey="phi" type="linear" stroke="#0000FF" strokeWidth={1.3} dot={false}
            activeDot={false} isAnimationActive={false} />
          <Scatter data={ccaRows} isAnimationActive={false}
            shape={(p: any) => <circle cx={p.cx} cy={p.cy} r={8.5} fill="#FFFF00" stroke="#000" strokeWidth={1.5} />} />
          <Scatter data={micpRows} isAnimationActive={false}
            shape={(p: any) => <circle cx={p.cx} cy={p.cy} r={10.5} fill="#FFC0CB" stroke="#222" strokeWidth={1.5} />} />
          {border(E_X)}
          {cores.map((c) => (
            <ReferenceArea key={c.name} x1={-0.0736} x2={-0.017} y1={c.top} y2={c.base}
              fill="#C0C0C0" fillOpacity={1} stroke="#3F5F9F" strokeWidth={2} ifOverflow="visible"
              label={{ value: c.name, angle: -90, position: "center", fontSize: 24, fill: "#000", fontFamily: NOTE_FONT }} />
          ))}
          <Legend {...noLegendShift} wrapperStyle={{ left: 188, top: 180, width: 125, height: 215 }}
            content={() => <PorosityLegend />} />
        </ComposedChart>
      </div>

      <svg width={1491} height={1181} style={{ position: "absolute", left: 0, top: 0, pointerEvents: "none" }}>
        {letters.map((l) => (
          <text key={l.text} x={l.x} y={49} fontSize={32} fontFamily={NOTE_FONT} fill="#000">{l.text}</text>
        ))}
        {titles.map((t) => (
          <text key={t.text} x={t.x} y={t.y} textAnchor="middle" dominantBaseline="central"
            fontSize={20.5} fontFamily={SANS} fill={INK}>{t.text}</text>
        ))}
        <text x={22} y={566} transform="rotate(-90 22 566)" textAnchor="middle" dominantBaseline="central"
          fontSize={21} fontFamily={SANS} fill={INK}>Depth TVDss (ft)</text>
      </svg>
    </div>
  );
}
